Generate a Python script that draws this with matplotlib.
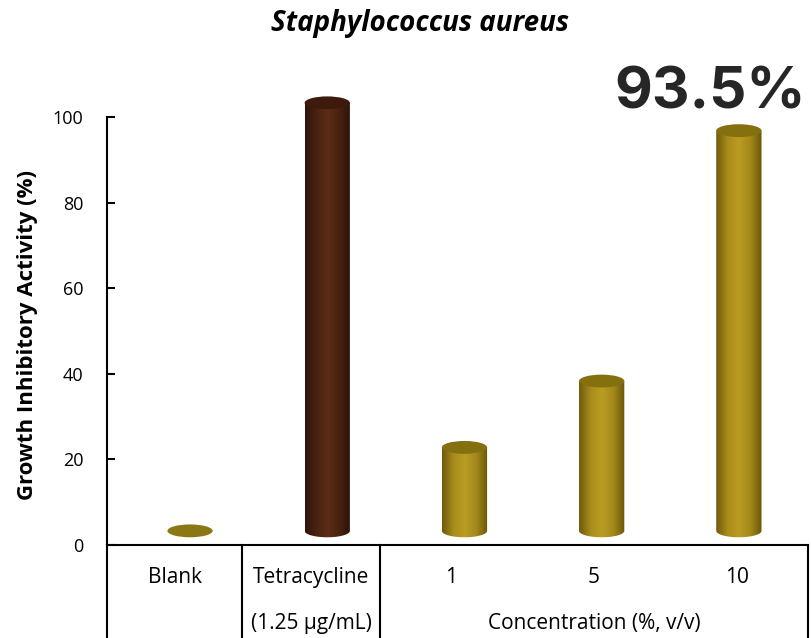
import numpy as np
import matplotlib
matplotlib.use("Agg")
import matplotlib.pyplot as plt
from matplotlib.patches import Ellipse, Polygon
from matplotlib.colors import LinearSegmentedColormap
import matplotlib.transforms as mtransforms

#Chart data.
categories = ["Blank", "Tetracycline", "1", "5", "10"]
values = [0, 100, 19.5, 35, 93.5]
groupLabels = ["", "(1.25 \u03bcg/mL)", "Concentration (%, v/v)"]
yTicks = [0, 20, 40, 60, 80, 100]
highlight = "93.5%"

plt.rcParams['font.family'] = ['Open Sans', 'DejaVu Sans']

fig = plt.figure(figsize=(8.12, 6.38), dpi=100)
ax = fig.add_axes([0.1318, 0.1458, 0.8633, 0.7514])

base = 3.3      # depth offset of the cylinder floor
barW = 0.33     # bar width in category units
ellH = 3.0      # ellipse height in value units

gold = LinearSegmentedColormap.from_list("gold", ["#6e5a0c", "#a88c1a", "#bb9c24", "#a4881a", "#6a560a"])
brown = LinearSegmentedColormap.from_list("brown", ["#2e140a", "#4a2212", "#5c2c16", "#48220f", "#2c1208"])

#Draws one cylinder as a shaded body with an elliptical top.
def drawCylinder(cx, val, cmap, topColor):
    x0, x1 = cx - barW / 2, cx + barW / 2
    top = base + val
    t = np.linspace(np.pi, 2 * np.pi, 40)
    pts = [(x0, top)]
    pts += list(zip(cx + barW / 2 * np.cos(t), base + ellH / 2 * np.sin(t)))
    pts += [(x1, top)]
    clip = Polygon(pts, closed=True, transform=ax.transData, facecolor="none", edgecolor="none")
    ax.add_patch(clip)
    grad = np.linspace(0, 1, 256).reshape(1, -1)
    im = ax.imshow(grad, cmap=cmap, aspect="auto", extent=[x0, x1, base - ellH, top],
                   interpolation="bicubic", zorder=2)
    im.set_clip_path(clip)
    ax.add_patch(Ellipse((cx, top), barW, ellH, facecolor=topColor, edgecolor="none", zorder=3))

for i, (cat, val) in enumerate(zip(categories, values)):
    if cat == "Blank":
        ax.add_patch(Ellipse((i, base), barW, ellH, facecolor="#8a7814", edgecolor="none", zorder=3))
    elif cat == "Tetracycline":
        drawCylinder(i, val, brown, "#3e1a0c")
    else:
        drawCylinder(i, val, gold, "#85700f")

ax.set_xlim(-0.605, 4.504)
ax.set_ylim(0, 112)

for s in ["top", "right"]:
    ax.spines[s].set_visible(False)
ax.spines["left"].set_bounds(0, 100)
ax.spines["left"].set_linewidth(1.5)
ax.spines["bottom"].set_linewidth(1.5)

ax.set_xticks([])
ax.set_yticks(yTicks)
ax.tick_params(axis="y", direction="in", length=6, width=1.5, pad=17, labelsize=13)
ax.text(-0.114, 0.438, "Growth Inhibitory Activity (%)", transform=ax.transAxes, rotation=90,
        ha="center", va="center", fontsize=16, fontweight="bold")

#Table under the axis.
trans = mtransforms.blended_transform_factory(ax.transData, ax.transAxes)
bounds = [-0.605, 0.38, 1.385, 4.504]
for b in bounds:
    ax.plot([b, b], [0, -0.2], transform=trans, color="black", lw=1.5, clip_on=False)

concCells = np.linspace(bounds[2], bounds[3], 4)
labelX = [(bounds[0] + bounds[1]) / 2, (bounds[1] + bounds[2]) / 2]
labelX += [(concCells[k] + concCells[k + 1]) / 2 for k in range(3)]
for x, cat in zip(labelX, categories):
    ax.text(x, -0.067, cat, transform=trans, ha="center", va="center", fontsize=15)
groupX = [labelX[0], labelX[1], (bounds[2] + bounds[3]) / 2]
for x, lab in zip(groupX, groupLabels):
    ax.text(x, -0.163, lab, transform=trans, ha="center", va="center", fontsize=15)

ax.text(4.49, 102, highlight, ha="right", va="baseline", fontsize=42, fontweight="bold",
        color="#262626", family=["Inter", "DejaVu Sans"])

fig.text(0.517, 0.963, "Staphylococcus aureus", ha="center", va="center",
         fontsize=20, fontweight="bold", fontstyle="italic")

fig.savefig("out.png", dpi=100)
